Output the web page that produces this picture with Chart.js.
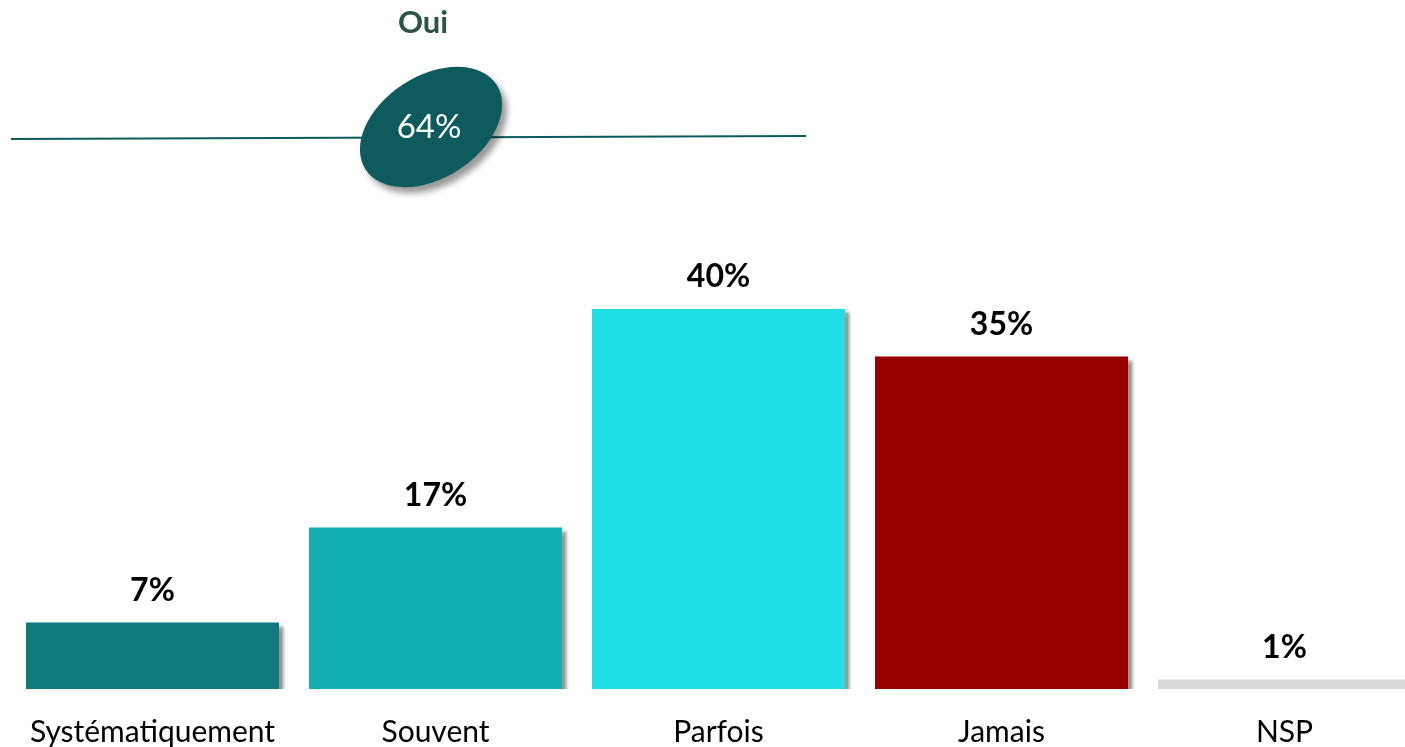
<!DOCTYPE html>
<html>
<head>
<meta charset="utf-8">
<script src="https://cdn.jsdelivr.net/npm/chart.js@4/dist/chart.umd.min.js"></script>
<style>
    html, body { margin: 0; padding: 0; background: #fff; overflow: hidden; }
    #wrap { width: 1440px; height: 747px; }
</style>
</head>
<body>
<div id="wrap"><canvas id="chart" width="1440" height="747"></canvas></div>
<script>
// Données
const categories = ['Systématiquement', 'Souvent', 'Parfois', 'Jamais', 'NSP'];
const values = [7, 17, 40, 35, 1];
const barColors = ['#0F7A80', '#14AFB6', '#21DFE7', '#980000', '#D9D9D9'];
const summaryLabel = ['Oui'];
const summaryValue = [64];

const FONT = 'Lato, "Open Sans", sans-serif';

// Ombre portée des barres
const shadowPlugin = {
    id: 'barShadow',
    beforeDatasetsDraw(chart) {
        const ctx = chart.ctx;
        ctx.save();
        ctx.shadowColor = 'rgba(0,0,0,0.4)';
        ctx.shadowOffsetX = 5;
        ctx.shadowOffsetY = 3;
        ctx.shadowBlur = 3;
    },
    afterDatasetsDraw(chart) {
        chart.ctx.restore();
    }
};

// Étiquettes de valeur au-dessus des barres
const valueLabels = {
    id: 'valueLabels',
    afterDatasetsDraw(chart) {
        const ctx = chart.ctx;
        const meta = chart.getDatasetMeta(0);
        ctx.save();
        ctx.fillStyle = '#000';
        ctx.font = 'bold 32px ' + FONT;
        ctx.textAlign = 'center';
        ctx.textBaseline = 'alphabetic';
        meta.data.forEach((bar, i) => {
            ctx.fillText(values[i] + '%', bar.x, bar.y - 22);
        });
        ctx.restore();
    }
};

// Bloc "Oui" en haut : ligne + ellipse
const summaryPlugin = {
    id: 'summary',
    afterDraw(chart) {
        const ctx = chart.ctx;
        const left = chart.chartArea.left;
        const cx = left + 420, cy = 127;
        ctx.save();
        // ligne
        ctx.strokeStyle = '#0E5B5E';
        ctx.lineWidth = 2;
        ctx.beginPath();
        ctx.moveTo(left, 139);
        ctx.lineTo(left + 795, 136);
        ctx.stroke();
        // ellipse avec ombre
        ctx.save();
        ctx.shadowColor = 'rgba(0,0,0,0.4)';
        ctx.shadowOffsetX = 5;
        ctx.shadowOffsetY = 6;
        ctx.shadowBlur = 6;
        ctx.fillStyle = '#0E5B5E';
        ctx.beginPath();
        ctx.ellipse(cx, cy, 78, 51, -33 * Math.PI / 180, 0, Math.PI * 2);
        ctx.fill();
        ctx.restore();
        // textes
        ctx.textAlign = 'center';
        ctx.textBaseline = 'middle';
        ctx.fillStyle = '#fff';
        ctx.font = '33px ' + FONT;
        ctx.fillText(summaryValue[0] + '%', cx - 2, cy);
        ctx.fillStyle = '#2B5448';
        ctx.font = 'bold 31px ' + FONT;
        ctx.fillText(summaryLabel[0], cx - 8, 23);
        ctx.restore();
    }
};

const chart = new Chart(document.getElementById('chart'), {
    type: 'bar',
    data: {
        labels: categories,
        datasets: [{
            data: values,
            backgroundColor: barColors,
            borderWidth: 0,
            categoryPercentage: 1,
            barPercentage: 0.894
        }]
    },
    options: {
        responsive: false,
        animation: false,
        layout: {
            padding: { top: 214, left: 11, right: 14, bottom: 0 }
        },
        plugins: {
            legend: { display: false },
            tooltip: { enabled: false }
        },
        scales: {
            x: {
                grid: { display: false, drawTicks: false },
                border: { display: false },
                ticks: {
                    color: '#000',
                    padding: 25,
                    font: { family: FONT, size: 30 }
                },
                afterFit(scale) { scale.height = 58; }
            },
            y: {
                display: false,
                min: 0,
                max: 50
            }
        }
    },
    plugins: [shadowPlugin, valueLabels, summaryPlugin]
});
</script>
</body>
</html>
